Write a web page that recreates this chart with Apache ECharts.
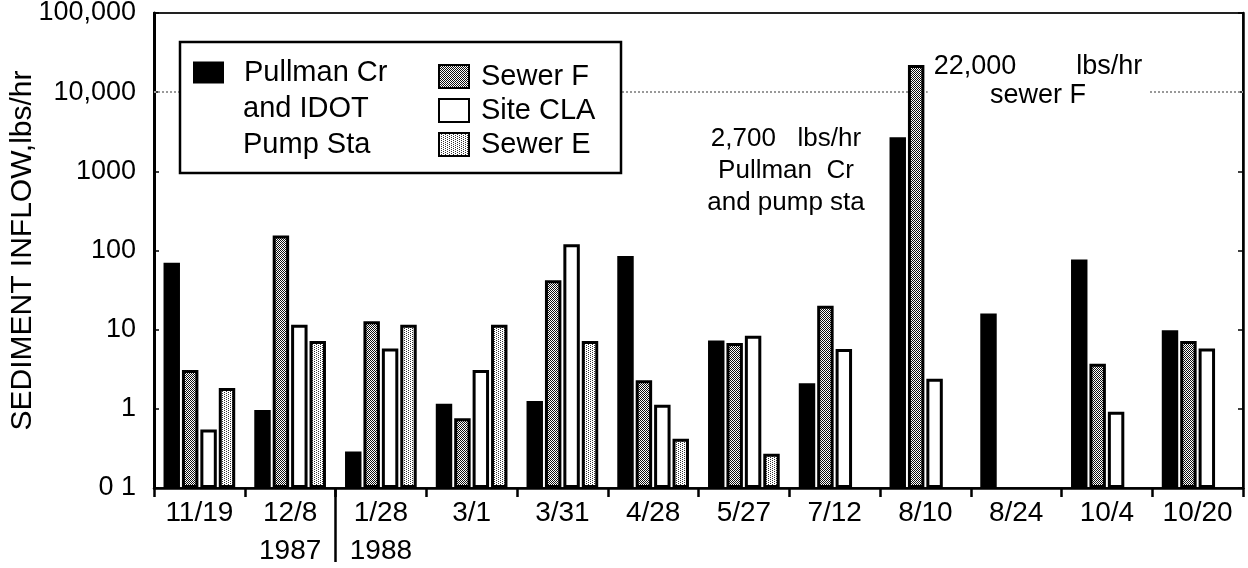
<!DOCTYPE html>
<html>
<head>
<meta charset="utf-8">
<script src="https://cdn.jsdelivr.net/npm/echarts@6/dist/echarts.min.js"></script>
<style>
  html, body { margin: 0; padding: 0; background: #fff; }
  #chart { width: 1248px; height: 568px; }
</style>
</head>
<body>
<div id="chart"></div>
<script>
// ---- data ----
const categories = ['11/19', '12/8', '1/28', '3/1', '3/31', '4/28', '5/27', '7/12', '8/10', '8/24', '10/4', '10/20'];
const yearLabels = ['', '1987', '1988', '', '', '', '', '', '', '', '', ''];
const pullman = [70, 0.97, 0.29, 1.16, 1.26, 85, 7.3, 2.1, 2700, 16, 77, 9.8];
const sewerF  = [3.1, 155, 12.8, 0.76, 42, 2.3, 6.8, 20, 22000, null, 3.7, 7.2];
const siteCLA = [0.55, 11.5, 5.8, 3.1, 120, 1.13, 8.4, 5.7, 2.4, null, 0.92, 5.8];
const sewerE  = [1.83, 7.2, 11.5, 11.5, 7.2, 0.42, 0.27, null, null, null, null, null];
const yTickLabels = ['0 1', '1', '10', '100', '1000', '10,000', '100,000']; // 0.1 .. 100000
const refLineValue = 10000;
const seriesNames = ['Pullman Cr\nand IDOT\nPump Sta', 'Sewer F', 'Site CLA', 'Sewer E'];
const noteSewerF = '22,000        lbs/hr\nsewer F';
const notePullman = '2,700   lbs/hr\nPullman  Cr\nand pump sta';

// ---- patterns ----
function makePattern(dots, size, ink) {
  const c = document.createElement('canvas');
  c.width = size; c.height = size;
  const g = c.getContext('2d');
  g.fillStyle = '#fff'; g.fillRect(0, 0, size, size);
  g.fillStyle = ink;
  dots.forEach(d => g.fillRect(d[0], d[1], 1, 1));
  return { image: c, repeat: 'repeat' };
}
const patF = makePattern([[0,0],[2,0],[1,1],[3,1],[0,2],[2,2],[1,3],[3,3]], 4, '#111');
const patE = makePattern([[0,0],[2,1],[0,2],[2,3]], 4, '#333');

const FONT = '"Liberation Sans", Arial, Helvetica, sans-serif';

const chart = echarts.init(document.getElementById('chart'));

function barSeries(name, data, color, extra) {
  return Object.assign({
    name: name,
    type: 'bar',
    data: data,
    barCategoryGap: '21%',
    barGap: '12%',
    itemStyle: { color: color, borderColor: '#000', borderWidth: 3 },
    emphasis: { disabled: true }
  }, extra || {});
}

const option = {
  animation: false,
  backgroundColor: '#fff',
  textStyle: { fontFamily: FONT },
  grid: {
    left: 154, right: 5, top: 13, bottom: 80,
    outerBoundsMode: 'none', containLabel: false,
    show: true, borderColor: '#222', borderWidth: 2, backgroundColor: 'transparent'
  },
  legend: [
    {
      data: [seriesNames[0]],
      left: 193, top: 58, padding: 0, z: 20,
      icon: 'rect',
      itemWidth: 29, itemHeight: 20,
      selectedMode: false,
      formatter: n => n.split('\n')[0],
      textStyle: { fontFamily: FONT, fontSize: 29, color: '#000', padding: [0, 0, 0, 16] }
    },
    {
      data: seriesNames.slice(1),
      orient: 'vertical',
      left: 438, top: 62, padding: 0, z: 20,
      icon: 'rect',
      itemWidth: 30, itemHeight: 23, itemGap: 5,
      selectedMode: false,
      textStyle: { fontFamily: FONT, fontSize: 29, color: '#000', padding: [0, 0, 0, 7] }
    }
  ],
  xAxis: {
    type: 'category',
    data: categories,
    axisLine: { show: true, lineStyle: { color: '#000', width: 2.5 } },
    axisTick: { show: true, length: 9, lineStyle: { color: '#000', width: 2.5 } },
    axisLabel: {
      interval: 0, margin: 6, color: '#000', fontFamily: FONT, fontSize: 28, lineHeight: 38,
      formatter: (v, i) => yearLabels[i] ? v + '\n' + yearLabels[i] : v
    },
    splitLine: { show: false }
  },
  yAxis: [
    {
      type: 'log', logBase: 10, min: 0.1, max: 100000, startValue: 0.1,
      name: 'SEDIMENT INFLOW,lbs/hr',
      nameLocation: 'middle', nameGap: 116, nameMoveOverlap: false,
      nameTextStyle: { fontFamily: FONT, fontSize: 30, color: '#000' },
      axisLine: { show: true, lineStyle: { color: '#000', width: 3 } },
      axisTick: { show: true, inside: true, length: 5, lineStyle: { color: '#000', width: 1.5 } },
      axisLabel: {
        color: '#000', fontFamily: FONT, fontSize: 27, margin: 18,
        formatter: v => yTickLabels[Math.round(Math.log10(v)) + 1]
      },
      splitLine: { show: false },
      minorTick: { show: false }
    },
    {
      type: 'log', logBase: 10, min: 0.1, max: 100000, position: 'right',
      axisLine: { show: true, onZero: false, lineStyle: { color: '#000', width: 2.5 } },
      axisTick: { show: true, inside: true, length: 5, lineStyle: { color: '#000', width: 1.5 } },
      axisLabel: { show: false },
      splitLine: { show: false }
    }
  ],
  series: [
    barSeries(seriesNames[0], pullman, '#000', {
      markLine: {
        silent: true, symbol: 'none', z: 1,
        label: { show: false },
        lineStyle: { color: '#999', type: [2, 2], width: 2 },
        data: [{ yAxis: refLineValue }]
      }
    }),
    barSeries(seriesNames[1], sewerF, patF),
    barSeries(seriesNames[2], siteCLA, '#fff'),
    barSeries(seriesNames[3], sewerE, patE)
  ]
};

chart.setOption(option);

// decorations computed from the axes
const xA = chart.convertToPixel({ xAxisIndex: 0 }, categories[1]);
const xB = chart.convertToPixel({ xAxisIndex: 0 }, categories[2]);
const sepX = (xA + xB) / 2;
const yBase = chart.convertToPixel({ yAxisIndex: 0 }, 0.1);

chart.setOption({
  graphic: [
    { // legend frame
      type: 'rect', z: 10, silent: true,
      shape: { x: 180, y: 42, width: 441, height: 131 },
      style: { fill: '#fff', stroke: '#000', lineWidth: 2.5 }
    },
    { // continuation lines of the first legend entry
      type: 'text', z: 21, silent: true,
      style: {
        text: 'and IDOT\nPump Sta', x: 243, y: 91, align: 'left', verticalAlign: 'top',
        font: '29px ' + FONT, lineHeight: 36, fill: '#000'
      }
    },
    { // 1987 | 1988 separator
      type: 'line', z: 10, silent: true,
      shape: { x1: sepX, y1: yBase, x2: sepX, y2: yBase + 74 },
      style: { stroke: '#000', lineWidth: 2.5 }
    },
    {
      type: 'text', z: 10, silent: true,
      style: {
        text: noteSewerF, x: 1038, y: 81, align: 'center', verticalAlign: 'middle',
        font: '27px ' + FONT, lineHeight: 29, fill: '#000',
        backgroundColor: '#fff', padding: [4, 6]
      }
    },
    {
      type: 'text', z: 10, silent: true,
      style: {
        text: notePullman, x: 786, y: 171, align: 'center', verticalAlign: 'middle',
        font: '26px ' + FONT, lineHeight: 32, fill: '#000'
      }
    }
  ]
});
</script>
</body>
</html>
